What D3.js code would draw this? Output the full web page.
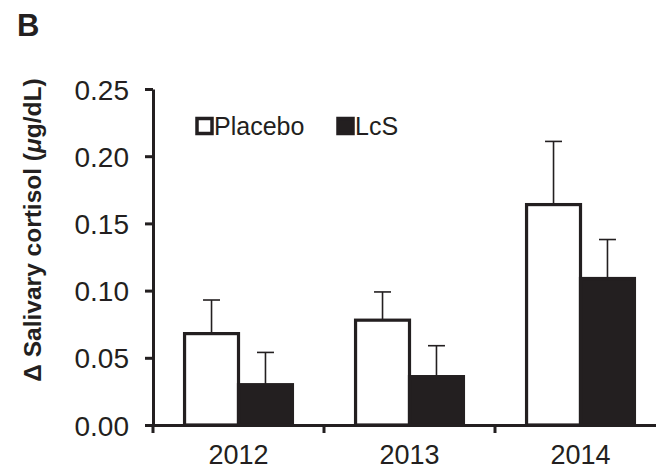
<!DOCTYPE html>
<html><head><meta charset="utf-8">
<script src="https://cdn.jsdelivr.net/npm/d3@7"></script>
<style>body{margin:0;background:#fff;} svg{display:block;} text{font-family:"Liberation Sans",Arial,sans-serif;fill:#231f20;}</style>
</head><body>
<svg id="c" width="656" height="470"></svg>
<script>
const years = ["2012", "2013", "2014"];
const series = ["Placebo", "LcS"];
const placeboMean = [0.068, 0.078, 0.164];
const placeboErr = [0.025, 0.021, 0.047];
const lcsMean = [0.030, 0.036, 0.109];
const lcsErr = [0.024, 0.023, 0.029];
const yTicks = [0, 0.05, 0.10, 0.15, 0.20, 0.25];

const ink = "#231f20";
const svg = d3.select("#c");
const x = d3.scaleBand().domain(years).range([153, 666]).padding(0);
const xs = d3.scaleBand().domain(series).range([0, x.bandwidth()]).paddingInner(0).paddingOuter(0.585);
const y = d3.scaleLinear().domain([0, 0.25]).range([425, 89]);

const data = [];
years.forEach((yr, i) => {
  data.push({year: yr, s: "Placebo", v: placeboMean[i], e: placeboErr[i]});
  data.push({year: yr, s: "LcS", v: lcsMean[i], e: lcsErr[i]});
});

// error bars (drawn first so bar outline covers the base)
const eg = svg.append("g").attr("stroke", ink).attr("stroke-width", 1.6);
data.forEach(d => {
  const cx = x(d.year) + xs(d.s) + xs.bandwidth() / 2;
  eg.append("line").attr("x1", cx).attr("x2", cx).attr("y1", y(d.v)).attr("y2", y(d.v + d.e));
  eg.append("line").attr("x1", cx - 8.5).attr("x2", cx + 8.5).attr("y1", y(d.v + d.e)).attr("y2", y(d.v + d.e));
});

// bars
svg.append("g").selectAll("rect").data(data).join("rect")
  .attr("x", d => x(d.year) + xs(d.s))
  .attr("width", xs.bandwidth())
  .attr("y", d => y(d.v))
  .attr("height", d => y(0) - y(d.v))
  .attr("fill", d => d.s === "Placebo" ? "#fff" : ink)
  .attr("stroke", ink).attr("stroke-width", 3.2);

// y axis
const ya = svg.append("g").attr("transform", "translate(153,0)")
  .call(d3.axisLeft(y).tickValues(yTicks).tickFormat(d3.format(".2f")).tickSize(8).tickSizeOuter(0).tickPadding(16));
ya.selectAll("path,line").attr("stroke", ink).attr("stroke-width", 3);
ya.selectAll("text").style("font-size", "28px").attr("fill", ink).attr("dy", "0.36em");

// x axis
const xa = svg.append("g").attr("transform", "translate(0,425)")
  .call(d3.axisBottom(x).tickSize(0).tickSizeOuter(0).tickPadding(20));
xa.select(".domain").attr("stroke", ink).attr("stroke-width", 3);
xa.selectAll("text").style("font-size", "27px").attr("fill", ink);
xa.selectAll(".bnd").data(years).join("line").attr("class", "bnd")
  .attr("x1", d => x(d)).attr("x2", d => x(d)).attr("y1", 0).attr("y2", 8)
  .attr("stroke", ink).attr("stroke-width", 3);

// y title
svg.append("text").attr("transform", "translate(41,230) rotate(-90)")
  .attr("text-anchor", "middle").style("font-size", "24.5px").style("font-weight", "bold")
  .html('Δ Salivary cortisol (<tspan font-style="italic">μ</tspan>g/dL)');

// panel letter
svg.append("text").attr("x", 17).attr("y", 36).style("font-size", "31px").style("font-weight", "bold").text("B");

// legend
const lg = svg.append("g");
const legX = [197, 338];
series.forEach((s, i) => {
  lg.append("rect").attr("x", legX[i]).attr("y", 118.5).attr("width", 15).attr("height", 15)
    .attr("fill", s === "Placebo" ? "#fff" : ink).attr("stroke", ink).attr("stroke-width", 3.5);
  lg.append("text").attr("x", legX[i] + 17).attr("y", 135).style("font-size", "25px").text(s);
});
</script>
</body></html>
